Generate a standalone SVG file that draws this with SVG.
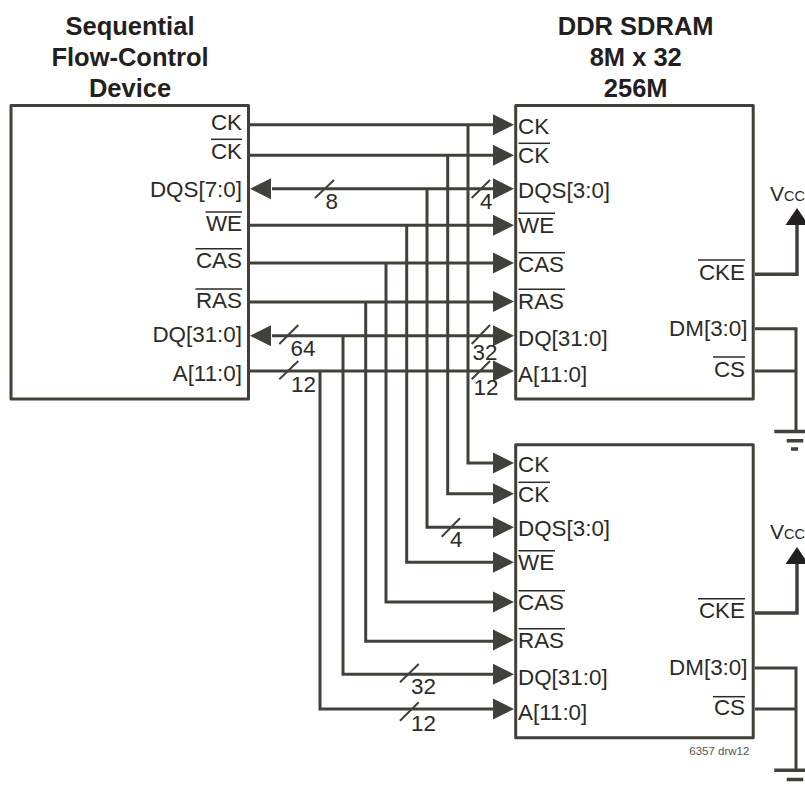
<svg xmlns="http://www.w3.org/2000/svg" width="805" height="785" viewBox="0 0 805 785">
<style>
text{font-family:"Liberation Sans",Arial,sans-serif;font-size:22.4px;fill:#2b2b29}
.t{font-weight:bold;font-size:25.5px;text-anchor:middle;fill:#231f20}
.e{text-anchor:end}
.vt{font-size:21px}
.s{font-size:14.5px}
.n{font-size:11.5px;fill:#555}
.box{fill:#fff;stroke:#40413a;stroke-width:3;stroke-linejoin:round}
.ov{stroke:#2b2b29;stroke-width:1.5;fill:none}
.w{fill:none;stroke:#40413a;stroke-width:3}
.sl{fill:none;stroke:#40413a;stroke-width:2}
.a{fill:#40413a}
.v{fill:#231f20}
.vw{fill:none;stroke:#40413a;stroke-width:3.5}
.g{fill:none;stroke:#40413a;stroke-width:3.5}
</style>
<defs>
<polygon id="ar" class="a" points="0,0 -21,-10.5 -21,10.5"/>
<polygon id="al" class="a" points="0,0 21,-10.5 21,10.5"/>
<polygon id="up" class="v" points="0,0 -11.5,17 11.5,17"/>
</defs>
<g id="titles">
<text class="t" x="130" y="35">Sequential</text>
<text class="t" x="130" y="65.700">Flow-Control</text>
<text class="t" x="130" y="96.700">Device</text>
<text class="t" x="635.700" y="35">DDR SDRAM</text>
<text class="t" x="635.700" y="65.700">8M x 32</text>
<text class="t" x="635.700" y="96.700">256M</text>
</g>
<g id="connectors">
<path class="w" d="M249 124.7H495M249 155.3H495M272 188.7H495M249 225.3H495M249 263H495M249 302H495M272 335.7H495M249 371H495"/>
<path class="w" d="M468 124.7V463H495M447.7 155.3V493.7H495M427 188.7V527.3H495M406.7 225.3V562.3H495M386 263V602H495M365.7 302V641.3H495M343 335.7V674.3H495M320 371V709H495"/>
<use href="#al" x="250" y="188.7"/><use href="#al" x="250" y="335.7"/>
<use href="#ar" x="514" y="124.7"/><use href="#ar" x="514" y="155.3"/><use href="#ar" x="514" y="188.7"/><use href="#ar" x="514" y="225.3"/><use href="#ar" x="514" y="263"/><use href="#ar" x="514" y="301.5"/><use href="#ar" x="514" y="335.7"/><use href="#ar" x="514" y="371"/>
<use href="#ar" x="514" y="463"/><use href="#ar" x="514" y="493.7"/><use href="#ar" x="514" y="527.3"/><use href="#ar" x="514" y="562.3"/><use href="#ar" x="514" y="602"/><use href="#ar" x="514" y="640"/><use href="#ar" x="514" y="674.3"/><use href="#ar" x="514" y="709"/>
<path class="sl" d="M315 198L334 180M471.7 198L490 180M279.3 344L298.3 325M279.3 379.3L298.3 361M471.7 344L490 325M471.7 379.3L490 361M441.7 536.7L460 518.3M400 682.3L418.7 664M400 720.7L418.7 702.3"/>
<text x="325.5" y="209">8</text>
<text x="480" y="209">4</text>
<text x="290.5" y="356">64</text>
<text x="291" y="392">12</text>
<text x="472.5" y="359.5">32</text>
<text x="473.5" y="395">12</text>
<text x="450" y="546.5">4</text>
<text x="411" y="694">32</text>
<text x="411" y="730.5">12</text>
<path class="vw" d="M755 274.300H797V224"/>
<path class="vw" d="M755 613H797V562"/>
<use href="#up" x="797" y="208"/>
<use href="#up" x="797" y="547"/>
<path class="w" d="M755 328.7H796V431M755 371H796"/>
<path class="w" d="M755 668H796V770M755 709H796"/>
</g>
<g id="device">
<rect class="box" x="11" y="105.5" width="237.5" height="293.5"/>
<text class="e" x="242" y="130">CK</text>
<text class="e" x="242" y="158.7">CK</text><line class="ov" x1="211" x2="242" y1="139.3" y2="139.3"/>
<text class="e" x="242" y="196.7">DQS[7:0]</text>
<text class="e" x="242" y="231">WE</text><line class="ov" x1="205.500" x2="242" y1="212" y2="212"/>
<text class="e" x="242" y="267.700">CAS</text><line class="ov" x1="195.500" x2="242" y1="248.7" y2="248.7"/>
<text class="e" x="242" y="308">RAS</text><line class="ov" x1="195.500" x2="242" y1="289" y2="289"/>
<text class="e" x="242" y="342">DQ[31:0]</text>
<text class="e" x="242" y="380.500">A[11:0]</text>
</g>
<g id="sdram1">
<rect class="box" x="515.700" y="105.5" width="237.500" height="293.5"/>
<text x="518" y="134">CK</text>
<text x="518" y="162.7">CK</text><line class="ov" x1="518.500" x2="550" y1="143.3" y2="143.3"/>
<text x="518" y="197.7">DQS[3:0]</text>
<text x="518" y="232.7">WE</text><line class="ov" x1="518.500" x2="555" y1="213.3" y2="213.3"/>
<text x="518" y="271.7">CAS</text><line class="ov" x1="518.500" x2="565" y1="252.7" y2="252.7"/>
<text x="518" y="308.7">RAS</text><line class="ov" x1="518.500" x2="565" y1="289.3" y2="289.3"/>
<text x="518" y="346">DQ[31:0]</text>
<text x="518" y="381.7">A[11:0]</text>
<text class="e" x="745" y="280">CKE</text><line class="ov" x1="698" x2="745" y1="260" y2="260"/>
<text class="e" x="747.500" y="336">DM[3:0]</text>
<text class="e" x="745" y="376.7">CS</text><line class="ov" x1="713" x2="745" y1="357" y2="357"/>
</g>
<g id="sdram2">
<rect class="box" x="515.700" y="444.700" width="237.500" height="293"/>
<text x="518" y="471.7">CK</text>
<text x="518" y="501.7">CK</text><line class="ov" x1="518.500" x2="550" y1="482.3" y2="482.3"/>
<text x="518" y="536">DQS[3:0]</text>
<text x="518" y="569.7">WE</text><line class="ov" x1="518.500" x2="555" y1="550.7" y2="550.7"/>
<text x="518" y="610">CAS</text><line class="ov" x1="518.500" x2="565" y1="590.7" y2="590.7"/>
<text x="518" y="648">RAS</text><line class="ov" x1="518.500" x2="565" y1="628.7" y2="628.7"/>
<text x="518" y="685">DQ[31:0]</text>
<text x="518" y="720">A[11:0]</text>
<text class="e" x="745" y="618">CKE</text><line class="ov" x1="698" x2="745" y1="598.7" y2="598.7"/>
<text class="e" x="747.500" y="675.3">DM[3:0]</text>
<text class="e" x="745" y="715.3">CS</text><line class="ov" x1="713" x2="745" y1="696.7" y2="696.7"/>
<text class="n" x="689.300" y="755">6357 drw12</text>
</g>
<g id="vcc1"><text class="vt" x="770" y="200.700">V<tspan class="s">CC</tspan></text></g>
<g id="vcc2"><text class="vt" x="770" y="539.300">V<tspan class="s">CC</tspan></text></g>
<g id="gnd1"><path class="g" d="M774.300 431.500H805M786.700 440.700H803.300M791 449H798"/></g>
<g id="gnd2"><path class="g" d="M774.300 770.300H805M786.700 779.500H803.300"/></g>
</svg>
